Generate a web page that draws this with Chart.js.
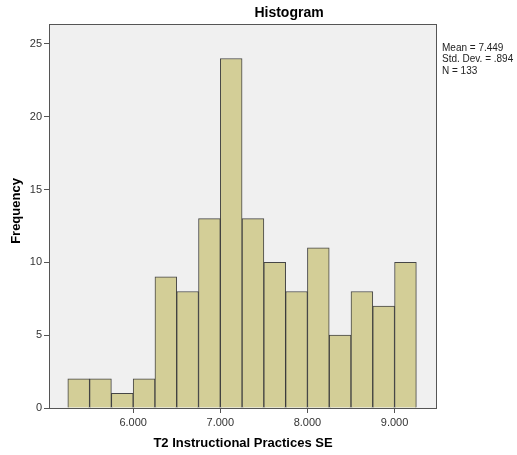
<!DOCTYPE html>
<html>
<head>
<meta charset="utf-8">
<script src="https://cdn.jsdelivr.net/npm/chart.js@4.4.0/dist/chart.umd.min.js"></script>
<style>
  html, body { margin: 0; padding: 0; background: #fff; }
  #wrap { width: 517px; height: 455px; }
</style>
</head>
<body>
<div id="wrap"><canvas id="myChart" width="517" height="455"></canvas></div>
<script>
// histogram bins (lower edges) and counts
var binStart = [5.25, 5.5, 5.75, 6.0, 6.25, 6.5, 6.75, 7.0, 7.25, 7.5, 7.75, 8.0, 8.25, 8.5, 8.75, 9.0];
var counts = [2, 2, 1, 2, 9, 8, 13, 24, 13, 10, 8, 11, 5, 8, 7, 10];
var xTicks = [6, 7, 8, 9];
var yTicks = [0, 5, 10, 15, 20, 25];
var stats = ["Mean = 7.449", "Std. Dev. = .894", "N = 133"];

var binWidth = 0.25;
var points = binStart.map(function(b, i){ return {x: b + binWidth / 2, y: counts[i]}; });

var extras = {
    id: 'extras',
    beforeDraw: function(chart){
        var c = chart.ctx, a = chart.chartArea;
        c.save();
        c.fillStyle = '#f0f0f0';
        c.fillRect(a.left, a.top, a.right - a.left, a.bottom - a.top);
        c.restore();
    },
    afterDraw: function(chart){
        var c = chart.ctx, a = chart.chartArea;
        c.save();
        c.strokeStyle = '#555';
        c.lineWidth = 1;
        c.strokeRect(a.left + 0.5, a.top + 0.5, a.right - a.left - 1, a.bottom - a.top);
        c.fillStyle = '#000';
        c.font = 'bold 14px "Liberation Sans", Arial, sans-serif';
        c.textAlign = 'center';
        c.textBaseline = 'middle';
        c.fillText('Histogram', 289, 13);
        c.font = 'bold 13px "Liberation Sans", Arial, sans-serif';
        c.fillText('T2 Instructional Practices SE', 243, 443);
        c.save();
        c.translate(16, 211);
        c.rotate(-Math.PI / 2);
        c.fillText('Frequency', 0, 0);
        c.restore();
        c.font = '10px "Liberation Sans", Arial, sans-serif';
        c.textAlign = 'left';
        c.fillStyle = '#222';
        stats.forEach(function(s, i){ c.fillText(s, 442, 48 + i * 11.5); });
        c.restore();
    }
};

var ctx = document.getElementById("myChart").getContext('2d');
var myChart = new Chart(ctx, {
    type: 'bar',
    data: {
        datasets: [{
            label: 'Frequency',
            data: points,
            backgroundColor: '#d3ce97',
            borderColor: 'rgba(40,40,40,0.85)',
            borderWidth: 1,
            barPercentage: 1,
            categoryPercentage: 1,
        }]
    },
    options: {
        responsive: false,
        animation: false,
        layout: { padding: { top: 24, right: 80, left: 0, bottom: 0 } },
        plugins: { legend: { display: false }, tooltip: { enabled: false } },
        scales: {
            x: {
                type: 'linear',
                min: 5.034,
                max: 9.487,
                offset: false,
                afterBuildTicks: function(s){ s.ticks = xTicks.map(function(v){ return {value: v}; }); },
                afterFit: function(s){ s.height = 47; },
                ticks: {
                    color: '#333',
                    font: { size: 11, family: '"Liberation Sans", Arial, sans-serif' },
                    padding: 3,
                    maxRotation: 0,
                    callback: function(v){ return v.toFixed(3); }
                },
                grid: { drawOnChartArea: false, offset: false, tickLength: 5, color: '#555' },
                border: { display: false }
            },
            y: {
                min: 0,
                max: 26.37,
                afterBuildTicks: function(s){ s.ticks = yTicks.map(function(v){ return {value: v}; }); },
                afterFit: function(s){ s.width = 49; },
                ticks: {
                    color: '#333',
                    font: { size: 11, family: '"Liberation Sans", Arial, sans-serif' },
                    padding: 2
                },
                grid: { drawOnChartArea: false, tickLength: 5, color: '#555' },
                border: { display: false }
            }
        }
    },
    plugins: [extras]
});
</script>
</body>
</html>
